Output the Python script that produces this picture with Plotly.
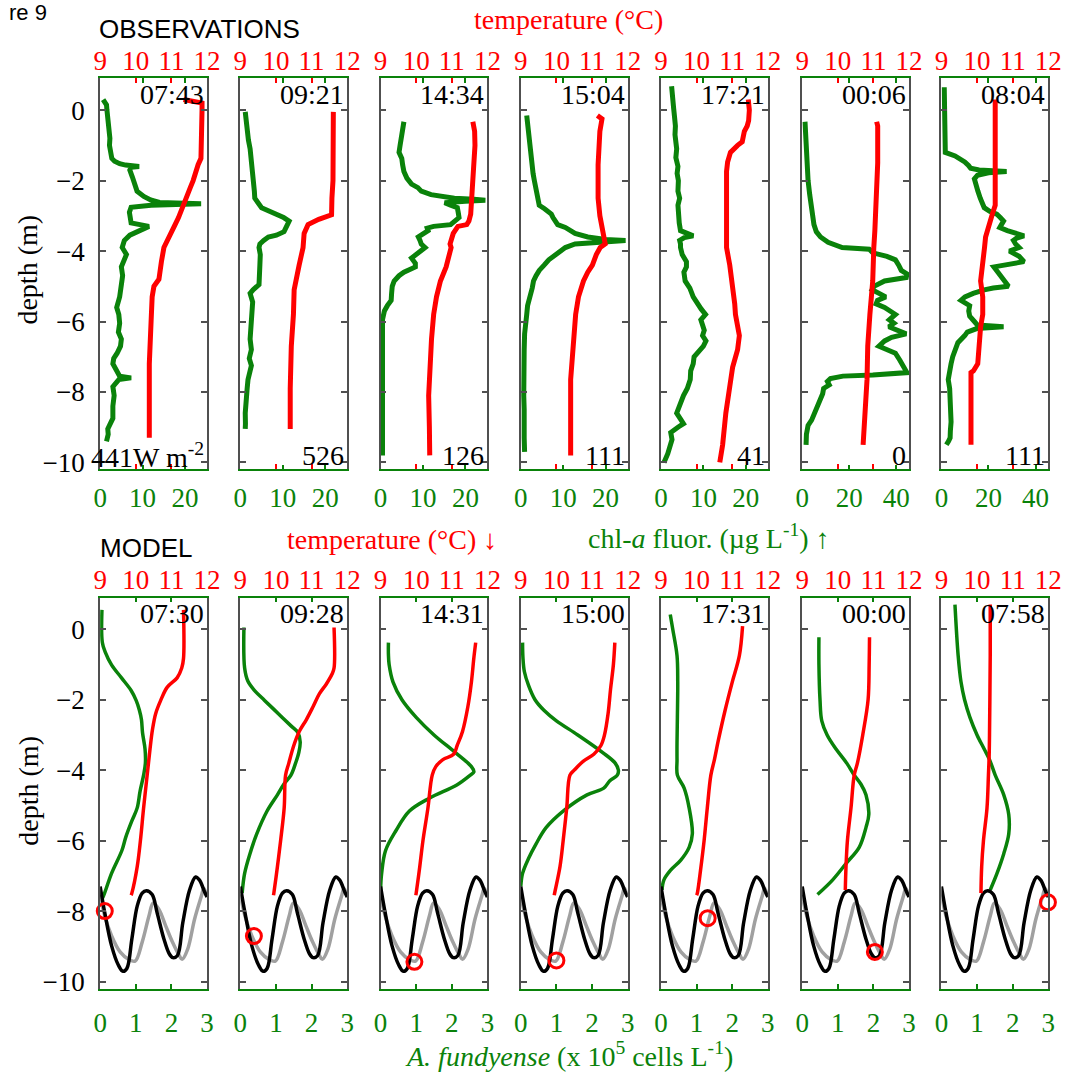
import plotly.graph_objects as go

W, H = 1077, 1078
GREEN = '#0a820a'
RED = '#ff0000'
FRAME = '#505050'
SERIF = 'Liberation Serif'
SANS = 'Liberation Sans'

# ---------------- labels ----------------
obs_times = ['07:43', '09:21', '14:34', '15:04', '17:21', '00:06', '08:04']
obs_irradiance = ['441W m<sup>-2</sup>', '526', '126', '111', '41', '0', '111']
model_times = ['07:30', '09:28', '14:31', '15:00', '17:31', '00:00', '07:58']
temp_ticks = [9, 10, 11, 12]
depth_ticks = [-10, -8, -6, -4, -2, 0]
chl_ticks_low = [0, 10, 20]
chl_ticks_high = [0, 20, 40]
fund_ticks = [0, 1, 2, 3]

# ---------------- observations: temperature (depth m, degC) ----------------
obs1_t_depth = [0.30, 0.25, 0.20, 0.0, -0.5, -1.0, -1.37, -1.55, -1.74, -2.0, -2.2, -2.4, -2.5, -2.63, -2.8, -3.05, -3.3, -3.6, -3.9, -4.3, -4.8, -5.0, -5.3, -6.0, -6.5, -7.2, -8.0, -9.3]
obs1_t = [11.34, 11.70, 11.86, 11.86, 11.85, 11.84, 11.83, 11.75, 11.70, 11.61, 11.53, 11.45, 11.42, 11.39, 11.30, 11.20, 11.08, 10.95, 10.79, 10.72, 10.65, 10.51, 10.46, 10.43, 10.40, 10.38, 10.38, 10.38]
obs2_t_depth = [-0.05, -1.0, -2.0, -2.5, -2.7, -2.97, -3.1, -3.25, -3.5, -3.9, -4.4, -4.85, -5.1, -5.8, -6.7, -7.9, -9.05]
obs2_t = [11.61, 11.61, 11.60, 11.57, 11.56, 11.56, 11.20, 10.90, 10.79, 10.76, 10.65, 10.57, 10.51, 10.49, 10.43, 10.40, 10.40]
obs3_t_depth = [-0.33, -0.6, -1.0, -1.5, -2.0, -2.5, -2.95, -3.15, -3.25, -3.3, -3.5, -3.8, -3.9, -4.45, -4.85, -5.3, -5.8, -6.5, -7.2, -8.1, -9.0, -9.8]
obs3_t = [11.59, 11.64, 11.65, 11.62, 11.60, 11.56, 11.53, 11.48, 11.42, 11.17, 11.04, 10.95, 10.98, 10.84, 10.68, 10.57, 10.49, 10.43, 10.40, 10.35, 10.37, 10.38]
obs4_t_depth = [-0.15, -0.25, -0.6, -1.0, -1.55, -2.0, -2.5, -3.0, -3.4, -3.7, -3.8, -3.9, -4.1, -4.4, -4.6, -4.85, -5.3, -5.8, -6.7, -7.65, -9.8]
obs4_t = [11.15, 11.28, 11.22, 11.19, 11.17, 11.17, 11.17, 11.22, 11.28, 11.35, 11.37, 11.23, 11.12, 11.01, 10.88, 10.76, 10.62, 10.54, 10.46, 10.40, 10.40]
obs5_t_depth = [0.3, 0.0, -0.3, -0.45, -0.6, -0.9, -1.0, -1.2, -1.47, -1.74, -2.5, -3.2, -3.9, -4.4, -4.95, -5.5, -5.8, -6.2, -6.4, -6.8, -7.3, -7.85, -8.6, -9.5, -9.9, -10.0]
obs5_t = [11.45, 11.48, 11.46, 11.42, 11.34, 11.28, 11.15, 10.95, 10.87, 10.84, 10.84, 10.84, 10.84, 10.93, 11.01, 11.07, 11.09, 11.17, 11.20, 11.15, 11.01, 10.93, 10.82, 10.73, 10.68, 10.65]
obs6_t_depth = [-0.33, -0.45, -1.5, -2.5, -3.42, -3.9, -4.85, -5.8, -6.7, -7.65, -8.6, -9.5]
obs6_t = [11.09, 11.12, 11.12, 11.09, 11.04, 11.01, 10.98, 10.90, 10.84, 10.82, 10.76, 10.71]
obs7_t_depth = [0.3, -1.0, -2.0, -2.7, -2.95, -3.25, -3.6, -3.9, -4.4, -4.85, -5.3, -5.8, -6.15, -6.7, -7.2, -7.4, -7.45, -8.1, -9.5]
obs7_t = [10.51, 10.51, 10.51, 10.51, 10.43, 10.35, 10.24, 10.21, 10.16, 10.10, 10.16, 10.16, 10.10, 10.07, 10.02, 9.90, 9.83, 9.83, 9.83]

# ---------------- observations: chl-a fluorescence (depth m, ug/L) ----------------
obs1_c_depth = [0.30, 0.15, 0.0, -0.2, -0.4, -0.6, -0.8, -1.0, -1.2, -1.37, -1.45, -1.52, -1.56, -1.58, -1.60, -1.62, -1.70, -1.90, -2.10, -2.30, -2.45, -2.55, -2.62, -2.66, -2.70, -2.76, -2.90, -3.05, -3.20, -3.30, -3.40, -3.55, -3.70, -3.90, -4.10, -4.30, -4.45, -4.70, -5.00, -5.30, -5.60, -5.80, -6.05, -6.30, -6.50, -6.70, -6.90, -7.05, -7.20, -7.40, -7.55, -7.60, -7.65, -7.85, -8.1, -8.4, -8.75, -8.9, -9.05, -9.2, -9.3, -9.4]
obs1_chl = [0.7, 1.5, 1.6, 1.8, 1.7, 2.1, 2.3, 2.2, 2.6, 2.75, 3.4, 4.6, 6.0, 7.0, 9.2, 7.3, 7.0, 7.6, 8.0, 8.7, 10.3, 11.9, 14.0, 23.8, 12.0, 7.3, 6.9, 7.0, 7.3, 11.5, 9.5, 7.0, 5.7, 5.2, 6.2, 5.6, 5.0, 5.3, 5.0, 4.6, 3.9, 4.4, 4.6, 4.3, 5.0, 4.8, 4.0, 3.2, 3.0, 4.1, 4.6, 7.3, 4.4, 3.0, 3.3, 3.0, 3.0, 2.4, 1.8, 1.9, 1.6, 1.5]
obs2_c_depth = [-0.05, -0.3, -0.6, -0.85, -1.1, -1.3, -1.55, -1.8, -2.1, -2.3, -2.5, -2.65, -2.77, -2.88, -2.97, -3.05, -3.15, -3.3, -3.45, -3.55, -3.6, -3.7, -3.8, -3.9, -4.1, -4.4, -4.7, -4.95, -5.1, -5.2, -5.45, -5.75, -6.1, -6.5, -6.8, -7.05, -7.25, -7.4, -7.65, -7.9, -8.3, -8.6, -8.9, -9.05]
obs2_chl = [1.15, 1.3, 1.6, 1.9, 2.3, 2.5, 2.75, 2.9, 3.2, 3.3, 3.4, 4.2, 5.0, 7.0, 8.9, 10.2, 11.5, 11.0, 10.3, 8.5, 6.6, 5.5, 4.6, 4.4, 4.7, 4.6, 4.5, 4.4, 3.0, 2.3, 2.9, 2.75, 2.5, 2.3, 2.6, 2.1, 2.6, 2.3, 1.8, 1.6, 1.3, 1.15, 1.2, 1.15]
obs3_c_depth = [-0.33, -0.55, -0.8, -1.0, -1.2, -1.37, -1.55, -1.74, -1.93, -2.1, -2.2, -2.3, -2.4, -2.45, -2.5, -2.53, -2.56, -2.59, -2.63, -2.7, -2.77, -2.9, -3.05, -3.15, -3.25, -3.3, -3.35, -3.42, -3.5, -3.6, -3.7, -3.8, -3.9, -4.05, -4.2, -4.35, -4.45, -4.6, -4.7, -4.85, -5.0, -5.2, -5.4, -5.55, -5.7, -5.95, -6.5, -7.5, -8.5, -9.3, -9.8]
obs3_chl = [5.5, 5.3, 5.0, 4.6, 4.35, 5.0, 5.2, 5.5, 6.2, 7.3, 8.8, 9.6, 11.9, 14.5, 17.4, 22.0, 24.7, 20.0, 15.1, 16.5, 18.1, 18.3, 18.5, 17.5, 16.5, 12.5, 11.0, 11.2, 10.0, 8.9, 9.3, 9.6, 10.5, 9.0, 7.3, 8.2, 8.2, 5.5, 4.35, 3.2, 2.75, 2.6, 2.5, 1.6, 0.9, 0.45, 0.45, 0.45, 0.45, 0.45, 0.45]
obs4_c_depth = [-0.15, -0.4, -0.6, -0.85, -1.1, -1.3, -1.55, -1.8, -2.0, -2.15, -2.3, -2.5, -2.7, -2.8, -2.87, -2.95, -3.05, -3.15, -3.25, -3.33, -3.42, -3.5, -3.6, -3.67, -3.7, -3.74, -3.8, -3.9, -4.0, -4.1, -4.25, -4.4, -4.55, -4.7, -4.85, -5.05, -5.3, -5.55, -5.8, -6.1, -6.35, -6.8, -7.2, -7.6, -8.1, -8.5, -8.85, -9.3, -9.7]
obs4_chl = [1.4, 1.6, 1.8, 2.0, 2.1, 2.3, 2.5, 2.9, 3.2, 3.5, 3.7, 4.0, 4.35, 5.6, 6.4, 7.2, 7.6, 8.0, 8.7, 10.5, 11.5, 12.8, 15.8, 20.0, 24.7, 18.0, 12.8, 10.5, 9.4, 8.0, 6.6, 5.5, 4.35, 3.6, 3.0, 2.7, 2.1, 1.6, 1.4, 1.1, 0.9, 0.8, 0.7, 0.6, 0.7, 0.8, 0.7, 0.8, 0.9]
obs5_c_depth = [0.68, 0.4, 0.2, 0.03, -0.2, -0.45, -0.7, -0.9, -1.1, -1.35, -1.6, -1.8, -2.0, -2.3, -2.5, -2.7, -2.97, -3.2, -3.42, -3.5, -3.57, -3.62, -3.7, -3.8, -3.9, -4.1, -4.3, -4.45, -4.6, -4.85, -5.05, -5.3, -5.5, -5.65, -5.8, -5.95, -6.1, -6.25, -6.4, -6.55, -6.7, -6.85, -7.0, -7.2, -7.4, -7.65, -7.9, -8.1, -8.35, -8.6, -8.75, -8.9, -9.0, -9.15, -9.35, -9.5, -9.75, -10.0]
obs5_chl = [2.5, 2.6, 2.8, 3.0, 3.2, 3.4, 3.3, 3.6, 3.7, 3.5, 4.0, 3.8, 4.1, 4.0, 4.4, 4.0, 4.1, 4.3, 4.6, 6.0, 7.6, 5.5, 4.4, 4.6, 4.6, 5.0, 6.0, 6.0, 5.4, 5.7, 6.8, 7.6, 8.5, 9.5, 10.5, 9.4, 9.8, 10.2, 9.8, 10.6, 10.0, 9.0, 7.8, 7.6, 7.0, 6.9, 6.2, 5.3, 4.6, 3.7, 4.5, 5.3, 4.0, 2.3, 2.6, 2.3, 1.6, 0.7]
obs6_c_depth = [-0.33, -0.7, -1.1, -1.5, -2.0, -2.4, -2.7, -3.0, -3.25, -3.45, -3.6, -3.75, -3.85, -3.9, -3.95, -4.05, -4.15, -4.25, -4.4, -4.55, -4.65, -4.75, -4.85, -5.0, -5.1, -5.2, -5.3, -5.4, -5.5, -5.6, -5.8, -5.95, -6.05, -6.15, -6.25, -6.35, -6.45, -6.55, -6.7, -6.9, -7.1, -7.3, -7.45, -7.52, -7.55, -7.62, -7.7, -7.8, -7.9, -8.05, -8.2, -8.4, -8.6, -8.8, -8.95, -9.2, -9.5]
obs6_chl = [1.2, 1.4, 1.65, 2.0, 2.5, 3.2, 3.7, 4.3, 5.0, 6.0, 7.8, 11.0, 14.9, 17.0, 28.5, 30.0, 36.0, 39.6, 41.0, 42.1, 44.5, 44.2, 35.0, 30.5, 29.7, 33.0, 35.5, 32.0, 31.4, 35.0, 39.6, 37.0, 39.0, 36.8, 41.0, 44.2, 38.0, 35.0, 32.6, 39.6, 41.5, 43.5, 44.5, 30.0, 17.3, 12.0, 10.7, 11.5, 9.1, 8.7, 7.8, 6.5, 5.0, 4.0, 2.5, 1.8, 1.65]
obs7_c_depth = [0.65, 0.3, 0.0, -0.4, -0.9, -1.1, -1.2, -1.3, -1.38, -1.47, -1.57, -1.65, -1.7, -1.74, -1.78, -1.85, -1.95, -2.1, -2.3, -2.5, -2.65, -2.77, -2.87, -2.95, -3.05, -3.15, -3.25, -3.33, -3.42, -3.5, -3.57, -3.63, -3.7, -3.8, -3.9, -4.0, -4.15, -4.3, -4.4, -4.45, -4.6, -4.8, -5.0, -5.05, -5.1, -5.2, -5.3, -5.4, -5.5, -5.55, -5.7, -5.85, -6.0, -6.1, -6.15, -6.2, -6.3, -6.4, -6.6, -6.8, -7.0, -7.2, -7.45, -7.65, -7.9, -8.1, -8.5, -8.85, -9.1, -9.3, -9.4, -9.5]
obs7_chl = [1.2, 1.2, 1.2, 1.3, 1.2, 1.5, 1.65, 5.8, 8.0, 9.9, 11.5, 12.4, 16.0, 27.7, 20.0, 15.3, 14.0, 14.5, 15.5, 16.5, 17.5, 18.2, 20.5, 23.5, 25.0, 26.4, 25.5, 24.8, 28.0, 31.8, 35.1, 32.0, 30.6, 31.5, 33.0, 28.9, 33.0, 35.1, 28.0, 22.3, 24.0, 26.5, 28.5, 22.0, 18.2, 13.5, 10.0, 8.3, 11.5, 12.0, 11.6, 12.0, 14.0, 15.3, 26.4, 15.0, 11.0, 9.9, 7.0, 5.8, 4.8, 4.1, 3.4, 2.9, 3.5, 3.7, 3.9, 4.1, 3.8, 3.7, 3.0, 2.1]

# ---------------- model: temperature (depth m, degC) ----------------
mod1_t_depth = [0.55, -0.83, -1.1, -1.38, -1.65, -2.02, -2.39, -2.84, -3.4, -4.14, -5.07, -6.0, -6.74, -7.49, -7.55]
mod1_t = [11.34, 11.34, 11.29, 11.16, 10.88, 10.70, 10.56, 10.47, 10.40, 10.32, 10.22, 10.13, 10.04, 9.89, 9.87]
mod2_t_depth = [0.05, -1.1, -1.28, -1.56, -1.83, -2.2, -2.57, -2.89, -3.3, -3.8, -4.14, -5.07, -6.0, -6.74, -7.49, -7.55]
mod2_t = [11.63, 11.63, 11.57, 11.41, 11.22, 11.04, 10.85, 10.66, 10.50, 10.36, 10.27, 10.23, 10.13, 10.04, 9.94, 9.93]
mod3_t_depth = [-0.38, -0.8, -1.5, -2.2, -2.9, -3.3, -3.55, -3.7, -3.9, -4.14, -5.07, -6.0, -6.74, -7.49, -7.55]
mod3_t = [11.67, 11.62, 11.55, 11.45, 11.30, 11.15, 11.05, 10.75, 10.55, 10.45, 10.33, 10.19, 10.10, 10.00, 9.99]
mod4_t_depth = [-0.38, -1.0, -1.7, -2.4, -3.0, -3.3, -3.55, -3.75, -4.0, -4.14, -5.07, -6.0, -6.74, -7.49, -7.55]
mod4_t = [11.64, 11.60, 11.52, 11.45, 11.35, 11.25, 11.05, 10.75, 10.50, 10.38, 10.29, 10.19, 10.10, 9.95, 9.94]
mod5_t_depth = [0.09, -0.75, -1.5, -2.3, -3.2, -3.7, -4.14, -5.07, -6.0, -6.84, -7.49, -7.55]
mod5_t = [11.29, 11.20, 11.00, 10.80, 10.60, 10.50, 10.40, 10.30, 10.21, 10.11, 10.02, 10.00]
mod6_t_depth = [-0.23, -1.0, -2.0, -3.0, -3.8, -4.14, -5.07, -6.0, -6.74, -7.4]
mod6_t = [10.89, 10.88, 10.85, 10.70, 10.55, 10.46, 10.37, 10.27, 10.23, 10.21]
mod7_t_depth = [0.70, -0.75, -2.0, -3.0, -3.6, -4.14, -5.07, -6.0, -6.74, -7.49]
mod7_t = [10.37, 10.37, 10.36, 10.35, 10.34, 10.32, 10.28, 10.18, 10.13, 10.11]

# ---------------- model: A. fundyense (depth m, x1e5 cells/L) ----------------
mod1_a_depth = [0.55, -0.37, -0.64, -1.01, -1.38, -1.74, -2.02, -2.29, -2.57, -2.94, -3.4, -3.8, -4.14, -4.6, -5.07, -5.44, -5.9, -6.28, -6.93, -7.58, -7.67]
mod1_a = [0.05, 0.06, 0.14, 0.32, 0.60, 0.87, 1.01, 1.10, 1.16, 1.19, 1.26, 1.27, 1.22, 1.12, 1.04, 0.89, 0.72, 0.61, 0.32, 0.09, 0.04]
mod2_a_depth = [0.05, -1.1, -1.47, -1.74, -2.02, -2.39, -2.75, -2.94, -3.2, -3.5, -3.8, -4.14, -4.4, -4.7, -5.16, -5.81, -6.37, -6.93, -7.49]
mod2_a = [0.10, 0.12, 0.21, 0.40, 0.68, 1.06, 1.43, 1.62, 1.68, 1.64, 1.55, 1.42, 1.22, 1.04, 0.75, 0.46, 0.27, 0.12, 0.05]
mod3_a_depth = [-0.38, -0.7, -1.0, -1.5, -2.0, -2.5, -3.0, -3.5, -3.9, -4.05, -4.14, -4.42, -4.79, -5.16, -5.72, -6.28, -6.93, -7.4]
mod3_a = [0.22, 0.22, 0.24, 0.35, 0.60, 1.00, 1.50, 2.10, 2.55, 2.62, 2.52, 2.14, 1.38, 0.81, 0.43, 0.14, 0.03, 0.0]
mod4_a_depth = [-0.38, -0.8, -1.2, -1.6, -2.0, -2.3, -2.6, -3.0, -3.5, -3.8, -4.0, -4.14, -4.3, -4.51, -4.7, -5.16, -5.63, -6.09, -6.5, -6.93, -7.3]
mod4_a = [0.05, 0.06, 0.10, 0.22, 0.40, 0.65, 1.00, 1.60, 2.30, 2.65, 2.74, 2.71, 2.50, 2.33, 1.86, 1.19, 0.71, 0.43, 0.22, 0.05, 0.0]
mod5_a_depth = [0.42, 0.0, -0.75, -1.5, -2.5, -3.2, -3.7, -4.14, -4.51, -5.07, -5.81, -6.19, -6.56, -6.84, -7.12, -7.4]
mod5_a = [0.26, 0.33, 0.45, 0.47, 0.46, 0.45, 0.45, 0.46, 0.65, 0.79, 0.88, 0.79, 0.55, 0.27, 0.08, 0.03]
mod6_a_depth = [-0.23, -1.0, -2.0, -2.6, -3.0, -3.4, -3.8, -4.14, -4.4, -4.7, -5.26, -5.63, -6.19, -6.65, -7.12, -7.53]
mod6_a = [0.47, 0.47, 0.50, 0.55, 0.70, 0.95, 1.25, 1.46, 1.65, 1.79, 1.87, 1.79, 1.60, 1.23, 0.85, 0.43]
mod7_a_depth = [0.70, -0.75, -1.5, -2.0, -2.5, -3.0, -3.4, -3.7, -4.14, -4.7, -5.26, -5.81, -6.37, -6.93, -7.4]
mod7_a = [0.38, 0.47, 0.55, 0.65, 0.80, 1.00, 1.20, 1.35, 1.51, 1.75, 1.89, 1.89, 1.75, 1.56, 1.37]

# ---------------- model: inset time series (black & grey) and markers ----------------
black_x = [0, 0.13, 0.32, 0.51, 0.64, 0.75, 0.89, 1.04, 1.18, 1.30, 1.46, 1.60, 1.79, 1.94, 2.04, 2.17, 2.32, 2.51, 2.68, 2.79, 2.93, 3.0]
black_y = [-7.3, -8.05, -8.98, -9.53, -9.71, -9.63, -8.79, -7.86, -7.49, -7.42, -7.53, -8.05, -8.79, -9.21, -9.32, -9.26, -8.33, -7.40, -7.03, -7.12, -7.45, -7.6]
grey_x = [0, 0.13, 0.32, 0.56, 0.80, 0.98, 1.18, 1.37, 1.49, 1.65, 1.84, 2.03, 2.22, 2.30, 2.46, 2.65, 2.84, 2.91, 3.0]
grey_y = [-7.55, -8.14, -8.70, -9.16, -9.37, -9.42, -8.88, -8.14, -7.77, -7.95, -8.42, -8.88, -9.26, -9.37, -9.07, -8.23, -7.58, -7.35, -7.6]
marker_x = [0.13, 0.38, 0.95, 1.0, 1.31, 2.04, 2.99]
marker_y = [-8.0, -8.71, -9.44, -9.4, -8.2, -9.16, -7.75]

obs_t = [(obs1_t_depth, obs1_t), (obs2_t_depth, obs2_t), (obs3_t_depth, obs3_t), (obs4_t_depth, obs4_t),
         (obs5_t_depth, obs5_t), (obs6_t_depth, obs6_t), (obs7_t_depth, obs7_t)]
obs_c = [(obs1_c_depth, obs1_chl), (obs2_c_depth, obs2_chl), (obs3_c_depth, obs3_chl), (obs4_c_depth, obs4_chl),
         (obs5_c_depth, obs5_chl), (obs6_c_depth, obs6_chl), (obs7_c_depth, obs7_chl)]
mod_t = [(mod1_t_depth, mod1_t), (mod2_t_depth, mod2_t), (mod3_t_depth, mod3_t), (mod4_t_depth, mod4_t),
         (mod5_t_depth, mod5_t), (mod6_t_depth, mod6_t), (mod7_t_depth, mod7_t)]
mod_a = [(mod1_a_depth, mod1_a), (mod2_a_depth, mod2_a), (mod3_a_depth, mod3_a), (mod4_a_depth, mod4_a),
         (mod5_a_depth, mod5_a), (mod6_a_depth, mod6_a), (mod7_a_depth, mod7_a)]

# ---------------- geometry (pixels) ----------------
lefts = [95, 238, 381, 524, 667, 811, 953]
PW = 109
rows = [(79, 473), (602, 996)]
YR = [-10.2, 0.9]
TICK_SIZE = 27


def fx(px):
    return px / W


def fy(py):
    return 1 - py / H


def akey(kind, n):
    return kind if n == 1 else f'{kind}{n}'


fig = go.Figure()
layout = dict(width=W, height=H, margin=dict(l=0, r=0, t=0, b=0),
              paper_bgcolor='white', plot_bgcolor='white', showlegend=False)
annotations = []

for row in range(2):
    top, bot = rows[row]
    for col in range(7):
        p = row * 7 + col
        bx, tx, yy = 2 * p + 1, 2 * p + 2, p + 1
        L = lefts[col]
        xdom = [fx(L), fx(L + PW)]
        ydom = [fy(bot), fy(top)]
        if row == 0:
            brange = [0, 25.2] if col < 5 else [0, 45.4]
            bticks = chl_ticks_low if col < 5 else chl_ticks_high
        else:
            brange = [0, 3]
            bticks = fund_ticks
        layout[akey('xaxis', bx)] = dict(
            domain=xdom, anchor=f'y{yy}', range=brange, tickvals=bticks,
            showline=True, linecolor=GREEN, linewidth=1.5, mirror='ticks',
            ticks='inside', ticklen=5, tickwidth=1.5, tickcolor=GREEN,
            tickfont=dict(family=SERIF, size=TICK_SIZE, color=GREEN),
            ticklabelstandoff=3 if row == 0 else 9,
            showgrid=False, zeroline=False)
        layout[akey('xaxis', tx)] = dict(
            domain=xdom, anchor=f'y{yy}', overlaying=f'x{bx}', side='top',
            range=[9, 12], tickvals=temp_ticks, showline=False,
            mirror='ticks' if row == 0 else False,
            ticks='inside' if row == 0 else '', ticklen=5, tickwidth=1.5, tickcolor=RED,
            tickfont=dict(family=SERIF, size=TICK_SIZE, color=RED),
            ticklabelstandoff=2,
            showgrid=False, zeroline=False)
        layout[akey('yaxis', yy)] = dict(
            domain=ydom, anchor=f'x{bx}', range=YR, tickvals=depth_ticks,
            showline=True, linecolor=FRAME, linewidth=1.8, mirror='ticks',
            ticks='inside', ticklen=6, tickwidth=1.5, tickcolor=FRAME,
            showticklabels=(col == 0), ticklabelstandoff=8,
            tickfont=dict(family=SERIF, size=TICK_SIZE, color='black'),
            showgrid=False, zeroline=False)

        if row == 0:
            d_t, v_t = obs_t[col]
            d_c, v_c = obs_c[col]
            fig.add_trace(go.Scatter(x=v_t, y=d_t, xaxis=f'x{tx}', yaxis=f'y{yy}', mode='lines',
                                     line=dict(color=RED, width=5)))
            fig.add_trace(go.Scatter(x=v_c, y=d_c, xaxis=f'x{bx}', yaxis=f'y{yy}', mode='lines',
                                     line=dict(color=GREEN, width=5)))
            label, corner = obs_times[col], obs_irradiance[col]
        else:
            d_t, v_t = mod_t[col]
            d_a, v_a = mod_a[col]
            fig.add_trace(go.Scatter(x=v_t, y=d_t, xaxis=f'x{tx}', yaxis=f'y{yy}', mode='lines',
                                     line=dict(color=RED, width=3.5, shape='spline')))
            fig.add_trace(go.Scatter(x=v_a, y=d_a, xaxis=f'x{bx}', yaxis=f'y{yy}', mode='lines',
                                     line=dict(color=GREEN, width=3.5, shape='spline')))
            fig.add_trace(go.Scatter(x=grey_x, y=grey_y, xaxis=f'x{bx}', yaxis=f'y{yy}', mode='lines',
                                     line=dict(color='#a0a0a0', width=3.5, shape='spline')))
            fig.add_trace(go.Scatter(x=black_x, y=black_y, xaxis=f'x{bx}', yaxis=f'y{yy}', mode='lines',
                                     line=dict(color='black', width=3.5, shape='spline')))
            fig.add_trace(go.Scatter(x=[marker_x[col]], y=[marker_y[col]], xaxis=f'x{bx}', yaxis=f'y{yy}',
                                     mode='markers', cliponaxis=False,
                                     marker=dict(symbol='circle-open', size=15, color=RED,
                                                 line=dict(width=3, color=RED))))
            label, corner = model_times[col], None
        annotations.append(dict(text=label, x=fx(L + PW - 1), y=fy(top + 16), xref='paper', yref='paper',
                                xanchor='right', yanchor='middle', showarrow=False,
                                font=dict(family=SERIF, size=28, color='black')))
        if corner is not None:
            annotations.append(dict(text=corner, x=fx(L + PW - 1), y=fy(bot - 14), xref='paper', yref='paper',
                                    xanchor='right', yanchor='middle', showarrow=False,
                                    font=dict(family=SERIF, size=28, color='black')))

# global labels
annotations += [
    dict(text='re 9', x=0, y=fy(13), xanchor='left', yanchor='middle',
         font=dict(family=SANS, size=22, color='black')),
    dict(text='OBSERVATIONS', x=fx(92), y=fy(29), xanchor='left', yanchor='middle',
         font=dict(family=SANS, size=26, color='black')),
    dict(text='temperature (°C)', x=fx(573), y=fy(20), xanchor='center', yanchor='middle',
         font=dict(family=SERIF, size=28, color=RED)),
    dict(text='MODEL', x=fx(93), y=fy(552), xanchor='left', yanchor='middle',
         font=dict(family=SANS, size=26, color='black')),
    dict(text='temperature (°C) ↓', x=fx(393), y=fy(544), xanchor='center', yanchor='middle',
         font=dict(family=SERIF, size=28, color=RED)),
    dict(text='chl-<i>a</i> fluor. (µg L<sup>-1</sup>) ↑', x=fx(716), y=fy(541), xanchor='center', yanchor='middle',
         font=dict(family=SERIF, size=28, color=GREEN)),
    dict(text='<i>A. fundyense</i> (x 10<sup>5</sup> cells L<sup>-1</sup>)', x=fx(573), y=fy(1062),
         xanchor='center', yanchor='middle', font=dict(family=SERIF, size=28, color=GREEN)),
    dict(text='depth (m)', x=fx(21), y=fy(272), xanchor='center', yanchor='middle', textangle=-90,
         font=dict(family=SERIF, size=28, color='black')),
    dict(text='depth (m)', x=fx(21), y=fy(797), xanchor='center', yanchor='middle', textangle=-90,
         font=dict(family=SERIF, size=28, color='black')),
]
for a in annotations:
    a.setdefault('xref', 'paper')
    a.setdefault('yref', 'paper')
    a.setdefault('showarrow', False)
layout['annotations'] = annotations

fig.update_layout(**layout)
fig.write_html('out.html')
